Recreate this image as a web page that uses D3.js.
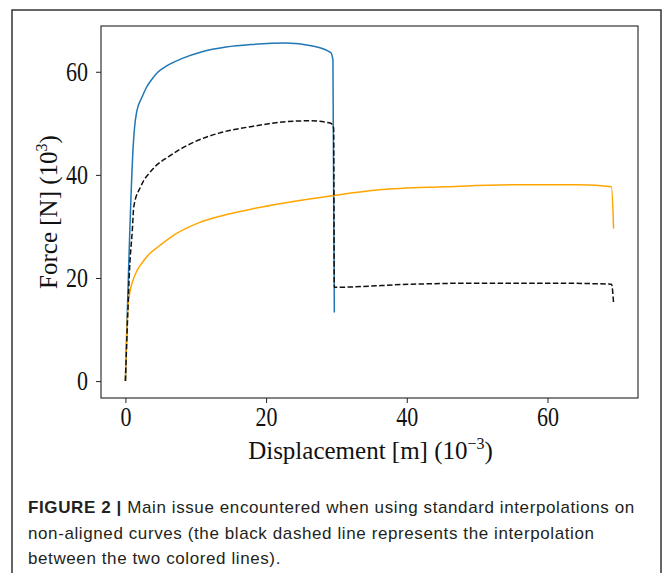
<!DOCTYPE html>
<html>
<head>
<meta charset="utf-8">
<script src="https://cdn.jsdelivr.net/npm/d3@7"></script>
<style>
  body { margin: 0; background: #fff; }
  svg { display: block; }
</style>
</head>
<body>
<div id="chart"></div>
<script>
// curves: displacement (10^-3 m), force (10^3 N)
var blueX = [0, 1.15, 1.3, 1.6, 2.4, 3.0, 3.8, 4.6, 5.7, 8.1, 10.9, 14.3, 18.0, 22.8, 26.6, 29.2, 29.5, 29.7];
var blueY = [0, 46.5, 49.2, 52.2, 55.2, 57.0, 58.6, 59.9, 61.0, 62.6, 63.9, 64.8, 65.3, 65.6, 65.0, 63.7, 62.3, 13.3];

var orangeX = [0, 0.35, 0.6, 0.97, 1.6, 2.4, 3.5, 4.8, 7.1, 10.4, 14.7, 18.0, 22.8, 29.6, 36.1, 45.5, 55.0, 64.5, 69.1, 69.4];
var orangeY = [0, 14.0, 17.0, 19.1, 21.3, 23.0, 24.8, 26.2, 28.5, 30.7, 32.4, 33.4, 34.6, 36.0, 37.1, 37.7, 38.1, 38.1, 37.7, 29.6];

var dashX = [0, 0.36, 0.6, 0.97, 1.2, 2.2, 3.8, 6.2, 9.5, 13.3, 18.0, 22.8, 26.1, 29.2, 29.6, 29.7, 40.8, 50.3, 59.8, 69.1, 69.4];
var dashY = [0, 14.0, 22.0, 29.0, 33.9, 37.8, 41.0, 43.6, 46.2, 48.1, 49.4, 50.3, 50.5, 50.0, 49.1, 18.2, 18.8, 19.0, 19.0, 18.8, 15.1];

var xTicks = [0, 20, 40, 60];
var yTicks = [0, 20, 40, 60];

var captionLines = [
  ["FIGURE 2 | ", "Main issue encountered when using standard interpolations on"],
  ["", "non-aligned curves (the black dashed line represents the interpolation"],
  ["", "between the two colored lines)."]
];

var W = 664, H = 573;
var margin = {top: 26, right: 26, bottom: 175, left: 101};
var width = W - margin.left - margin.right,
    height = H - margin.top - margin.bottom;

var svg = d3.select("#chart").append("svg")
  .attr("width", W).attr("height", H);

// figure frame (open at the bottom)
svg.append("path")
  .attr("d", "M12," + H + "V10H661V" + H)
  .attr("fill", "none").attr("stroke", "#333").attr("stroke-width", 1.5);

var g = svg.append("g").attr("transform", "translate(" + margin.left + "," + margin.top + ")");

// matplotlib style 5% margins
var xMax = d3.max(orangeX.concat(blueX, dashX)), yMax = d3.max(blueY.concat(orangeY, dashY));
var x = d3.scaleLinear().domain([-0.05 * xMax, 1.05 * xMax]).range([0, width]);
var y = d3.scaleLinear().domain([-0.05 * yMax, 1.05 * yMax]).range([height, 0]);

var tickFont = "'Liberation Serif', 'DejaVu Serif', serif";
var stretch = 1.25; // the tick digits in the figure are taller than wide

var xAxis = g.append("g").attr("transform", "translate(0," + height + ")")
  .call(d3.axisBottom(x).tickValues(xTicks).tickSize(5).tickPadding(4).tickFormat(d3.format("d")));
var yAxis = g.append("g")
  .call(d3.axisLeft(y).tickValues(yTicks).tickSize(5).tickPadding(8).tickFormat(d3.format("d")));

[xAxis, yAxis].forEach(function(a){
  a.select(".domain").remove();
  a.selectAll(".tick line").attr("stroke", "#222").attr("stroke-width", 1);
  a.selectAll(".tick text").attr("fill", "#111")
    .style("font-family", tickFont).style("font-size", "22px")
    .attr("transform", "scale(1," + stretch + ")");
});
xAxis.selectAll(".tick text").attr("y", 6.8);

// box
g.append("rect").attr("width", width).attr("height", height)
  .attr("fill", "none").attr("stroke", "#333").attr("stroke-width", 1.2);

function pts(xs, ys){ return xs.map(function(d, i){ return [d, ys[i]]; }); }
var line = d3.line()
  .x(function(d){ return x(d[0]); })
  .y(function(d){ return y(d[1]); })
  .curve(d3.curveMonotoneX);

g.append("path").datum(pts(blueX, blueY)).attr("d", line)
  .attr("fill", "none").attr("stroke", "#1f77b4").attr("stroke-width", 1.5);
g.append("path").datum(pts(orangeX, orangeY)).attr("d", line)
  .attr("fill", "none").attr("stroke", "#ffa500").attr("stroke-width", 1.5);
g.append("path").datum(pts(dashX, dashY)).attr("d", line)
  .attr("fill", "none").attr("stroke", "#111").attr("stroke-width", 1.5)
  .attr("stroke-dasharray", "5.5,2.4");

// axis labels
var xl = svg.append("text")
  .attr("x", margin.left + width / 2 + 1).attr("y", 459)
  .attr("text-anchor", "middle")
  .style("font-family", tickFont).style("font-size", "25px").attr("fill", "#111");
xl.append("tspan").text("Displacement [m] (10");
xl.append("tspan").attr("dy", -10).style("font-size", "16px").text("\u22123");
xl.append("tspan").attr("dy", 10).text(")");

var yl = svg.append("text")
  .attr("transform", "translate(57," + (margin.top + height / 2) + ") rotate(-90)")
  .attr("text-anchor", "middle")
  .style("font-family", tickFont).style("font-size", "25px").attr("fill", "#111");
yl.append("tspan").text("Force [N] (10");
yl.append("tspan").attr("dy", -10).style("font-size", "16px").text("3");
yl.append("tspan").attr("dy", 10).text(")");

// caption
var cap = svg.append("g")
  .style("font-family", "'Liberation Sans', Arial, sans-serif")
  .style("font-size", "17px").style("letter-spacing", "0.6px")
  .attr("fill", "#231f20");
captionLines.forEach(function(l, i){
  var t = cap.append("text").attr("x", 28).attr("y", 513 + i * 25.5);
  if (l[0]) t.append("tspan").style("font-weight", "bold").text(l[0]);
  t.append("tspan").text(l[1]);
});
</script>
</body>
</html>
